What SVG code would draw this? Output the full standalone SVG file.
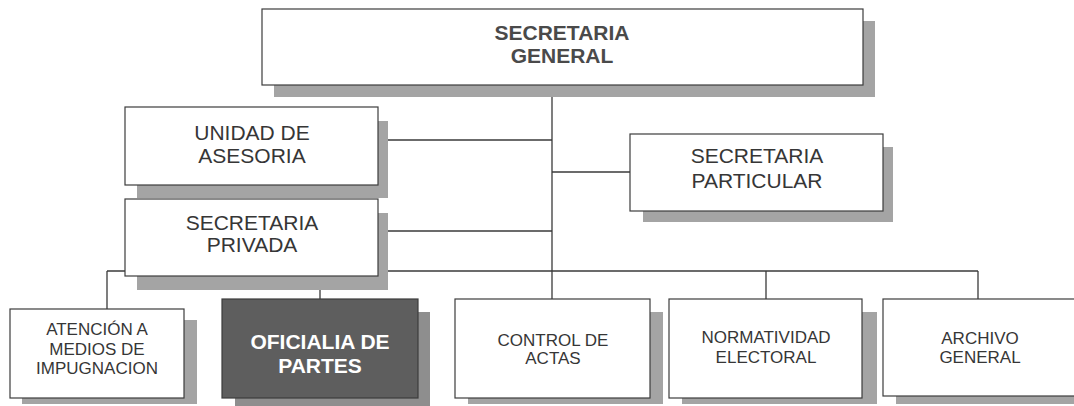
<svg xmlns="http://www.w3.org/2000/svg" width="1074" height="406" viewBox="0 0 1074 406">
<style>
.bg{fill:#ffffff}
.box{fill:#ffffff;stroke:#3c3c3c;stroke-width:1.2}
.dark{fill:#5e5e5e;stroke:#3c3c3c;stroke-width:1.2}
.sh{fill:#a4a4a4}
.shd{fill:#8e8e8e}
.conn line{stroke:#3a3a3a;stroke-width:1.3;fill:none}
text{font-family:"Liberation Sans",Arial,sans-serif;text-anchor:middle;fill:#363636}
.t21{font-size:21px}
.t17{font-size:17px}
.tb{font-size:21px;font-weight:bold;fill:#4a4a4a}
.tw{font-size:21px;font-weight:bold;fill:#ffffff}
</style>
<rect class="bg" x="0" y="0" width="1074" height="406"/>
<g id="connectors" class="conn">
<line x1="552" y1="86" x2="552" y2="299"/>
<line x1="378" y1="140" x2="552" y2="140"/>
<line x1="552" y1="172" x2="630" y2="172"/>
<line x1="378" y1="231" x2="552" y2="231"/>
<line x1="107" y1="271" x2="978" y2="271"/>
<line x1="107" y1="271" x2="107" y2="309"/>
<line x1="320" y1="276" x2="320" y2="299"/>
<line x1="766" y1="271" x2="766" y2="299"/>
<line x1="978" y1="271" x2="978" y2="299"/>
</g>
<g id="secretaria-general">
<rect class="sh" x="274" y="21" width="601" height="76"/>
<rect class="box" x="262" y="9" width="601" height="76"/>
<text class="tb" x="562" y="39.5">SECRETARIA</text>
<text class="tb" x="562" y="62.5">GENERAL</text>
</g>
<g id="unidad-asesoria">
<rect class="sh" x="137" y="121" width="251" height="77"/>
<rect class="box" x="125" y="107" width="253" height="78"/>
<text class="t21" x="252" y="139.5">UNIDAD DE</text>
<text class="t21" x="252" y="162.5">ASESORIA</text>
</g>
<g id="secretaria-particular">
<rect class="sh" x="643" y="147" width="250" height="75"/>
<rect class="box" x="630" y="134" width="253" height="77"/>
<text class="t21" x="757" y="162.5">SECRETARIA</text>
<text class="t21" x="757" y="187.5">PARTICULAR</text>
</g>
<g id="secretaria-privada">
<rect class="sh" x="137" y="213" width="251" height="77"/>
<rect class="box" x="125" y="199" width="253" height="77"/>
<text class="t21" x="252" y="229.5">SECRETARIA</text>
<text class="t21" x="252" y="251.5">PRIVADA</text>
</g>
<g id="atencion-medios">
<rect class="sh" x="22" y="320" width="175" height="84"/>
<rect class="box" x="10" y="309" width="174" height="89"/>
<text class="t17" x="97" y="335">ATENCIÓN A</text>
<text class="t17" x="97" y="355">MEDIOS DE</text>
<text class="t17" x="97" y="374">IMPUGNACION</text>
</g>
<g id="oficialia-partes">
<rect class="shd" x="235" y="312" width="195" height="94"/>
<rect class="dark" x="222" y="299" width="196" height="99"/>
<text class="tw" x="320" y="349">OFICIALIA DE</text>
<text class="tw" x="320" y="372.5">PARTES</text>
</g>
<g id="control-actas">
<rect class="sh" x="468" y="312" width="195" height="92"/>
<rect class="box" x="455" y="299" width="195" height="99"/>
<text class="t17" x="553" y="346">CONTROL DE</text>
<text class="t17" x="553" y="364">ACTAS</text>
</g>
<g id="normatividad-electoral">
<rect class="sh" x="682" y="312" width="195" height="92"/>
<rect class="box" x="669" y="299" width="193" height="99"/>
<text class="t17" x="766" y="343">NORMATIVIDAD</text>
<text class="t17" x="766" y="363">ELECTORAL</text>
</g>
<g id="archivo-general">
<rect class="sh" x="896" y="312" width="200" height="92"/>
<rect class="box" x="883" y="299" width="195" height="97"/>
<text class="t17" x="980" y="344">ARCHIVO</text>
<text class="t17" x="980" y="363">GENERAL</text>
</g>
</svg>
